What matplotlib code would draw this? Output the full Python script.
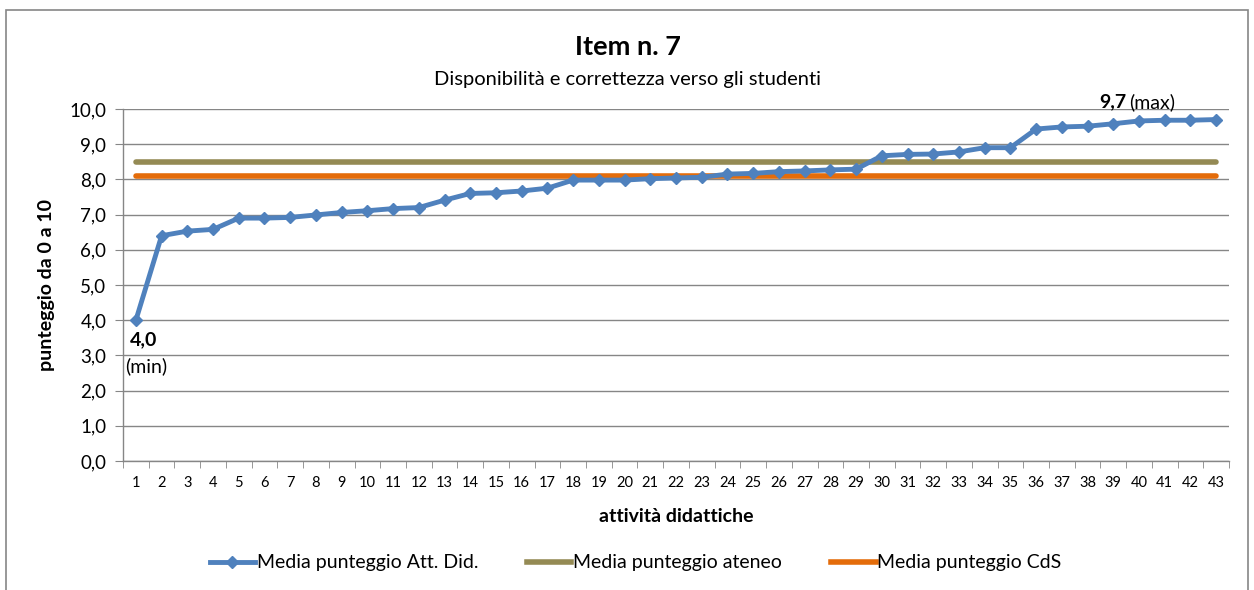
import numpy as np
import matplotlib
matplotlib.use("Agg")
import matplotlib.pyplot as plt
from matplotlib.patches import Rectangle
from matplotlib.lines import Line2D
from matplotlib.ticker import FuncFormatter, MultipleLocator

plt.rcParams['font.family'] = ['Lato', 'DejaVu Sans']

# dati
attivita = list(range(1, 44))
media_att = [4.0, 6.4, 6.53, 6.58, 6.9, 6.9, 6.92, 6.99, 7.06, 7.11, 7.17, 7.2, 7.41,
             7.6, 7.62, 7.67, 7.75, 7.98, 7.98, 7.98, 8.02, 8.04, 8.06, 8.15, 8.17,
             8.22, 8.24, 8.27, 8.29, 8.67, 8.71, 8.72, 8.78, 8.9, 8.9, 9.43, 9.49,
             9.51, 9.58, 9.66, 9.68, 9.68, 9.7]
media_ateneo = 8.5
media_cds = 8.1

titolo = "Item n. 7"
sottotitolo = "Disponibilità e correttezza verso gli studenti"
serie = ["Media punteggio Att. Did.", "Media punteggio ateneo", "Media punteggio CdS"]

blu = '#4f81bd'
oliva = '#948a54'
arancio = '#e46c0a'
grigio = '#868686'

fig = plt.figure(figsize=(12.54, 5.90), dpi=100)
ax = fig.add_axes([0.0981, 0.2186, 0.8820, 0.5967])

x = np.arange(len(attivita))
ax.plot(x, [media_ateneo] * len(x), color=oliva, lw=4, solid_capstyle='round', zorder=2)
ax.plot(x, [media_cds] * len(x), color=arancio, lw=4, solid_capstyle='round', zorder=3)
ax.plot(x, media_att, color=blu, lw=3.5, marker='D', ms=6, zorder=4)

ax.set_xlim(-0.5, len(x) - 0.5)
ax.set_ylim(0, 10)
ax.yaxis.set_major_locator(MultipleLocator(1))
ax.yaxis.set_major_formatter(FuncFormatter(lambda v, p: f"{v:.1f}".replace('.', ',')))
ax.grid(axis='y', color=grigio, lw=1)
ax.set_axisbelow(True)

ax.set_xticks(x)
ax.set_xticklabels([str(a) for a in attivita], fontsize=10.5)
ax.set_xticks(np.arange(-0.5, len(x), 1), minor=True)
ax.tick_params(axis='x', which='major', length=0, pad=11)
ax.tick_params(axis='x', which='minor', length=5, color=grigio, direction='out')
ax.tick_params(axis='y', length=6, color=grigio, labelsize=13.5, pad=6)

for s in ['top', 'right']:
    ax.spines[s].set_visible(False)
for s in ['left', 'bottom']:
    ax.spines[s].set_color(grigio)
    ax.spines[s].set_linewidth(1)

ax.set_xlabel("attività didattiche", fontsize=14, fontweight='bold', labelpad=13)
ax.set_ylabel("punteggio da 0 a 10", fontsize=14, fontweight='bold', labelpad=10)

# etichette min / max
i_min = int(np.argmin(media_att))
i_max = int(np.argmax(media_att))
ax.annotate(f"{media_att[i_min]:.1f}".replace('.', ','), (x[i_min], media_att[i_min]),
            xytext=(-4.5, -14), textcoords='offset points', ha='left', va='center',
            fontsize=14, fontweight='bold')
ax.annotate("(min)", (x[i_min], media_att[i_min]), xytext=(-8, -33),
            textcoords='offset points', ha='left', va='center', fontsize=14)
ax.annotate(f"{media_att[i_max]:.1f}".replace('.', ','), (x[i_max - 3], media_att[i_max]),
            xytext=(-9.4, 12.7), textcoords='offset points', ha='right', va='center',
            fontsize=14, fontweight='bold')
ax.annotate("(max)", (x[i_max - 3], media_att[i_max]), xytext=(-7, 12.7),
            textcoords='offset points', ha='left', va='center', fontsize=14)

fig.text(0.501, 0.920, titolo, ha='center', va='center', fontsize=19.5, fontweight='bold')
fig.text(0.500, 0.866, sottotitolo, ha='center', va='center', fontsize=14.5)

handles = [Line2D([], [], color=blu, lw=3.5, marker='D', ms=6),
           Line2D([], [], color=oliva, lw=4),
           Line2D([], [], color=arancio, lw=4)]
fig.legend(handles, serie, loc='center', bbox_to_anchor=(0.507, 0.046), ncol=3,
           frameon=False, fontsize=14, handlelength=2.3, handletextpad=0.1,
           columnspacing=2.5)

fig.patches.append(Rectangle((6 / 1254, -0.1), 1242 / 1254, 1.1 - 10 / 590,
                             transform=fig.transFigure, fill=False,
                             edgecolor=grigio, lw=1.2))

fig.savefig("out.png", dpi=100)
